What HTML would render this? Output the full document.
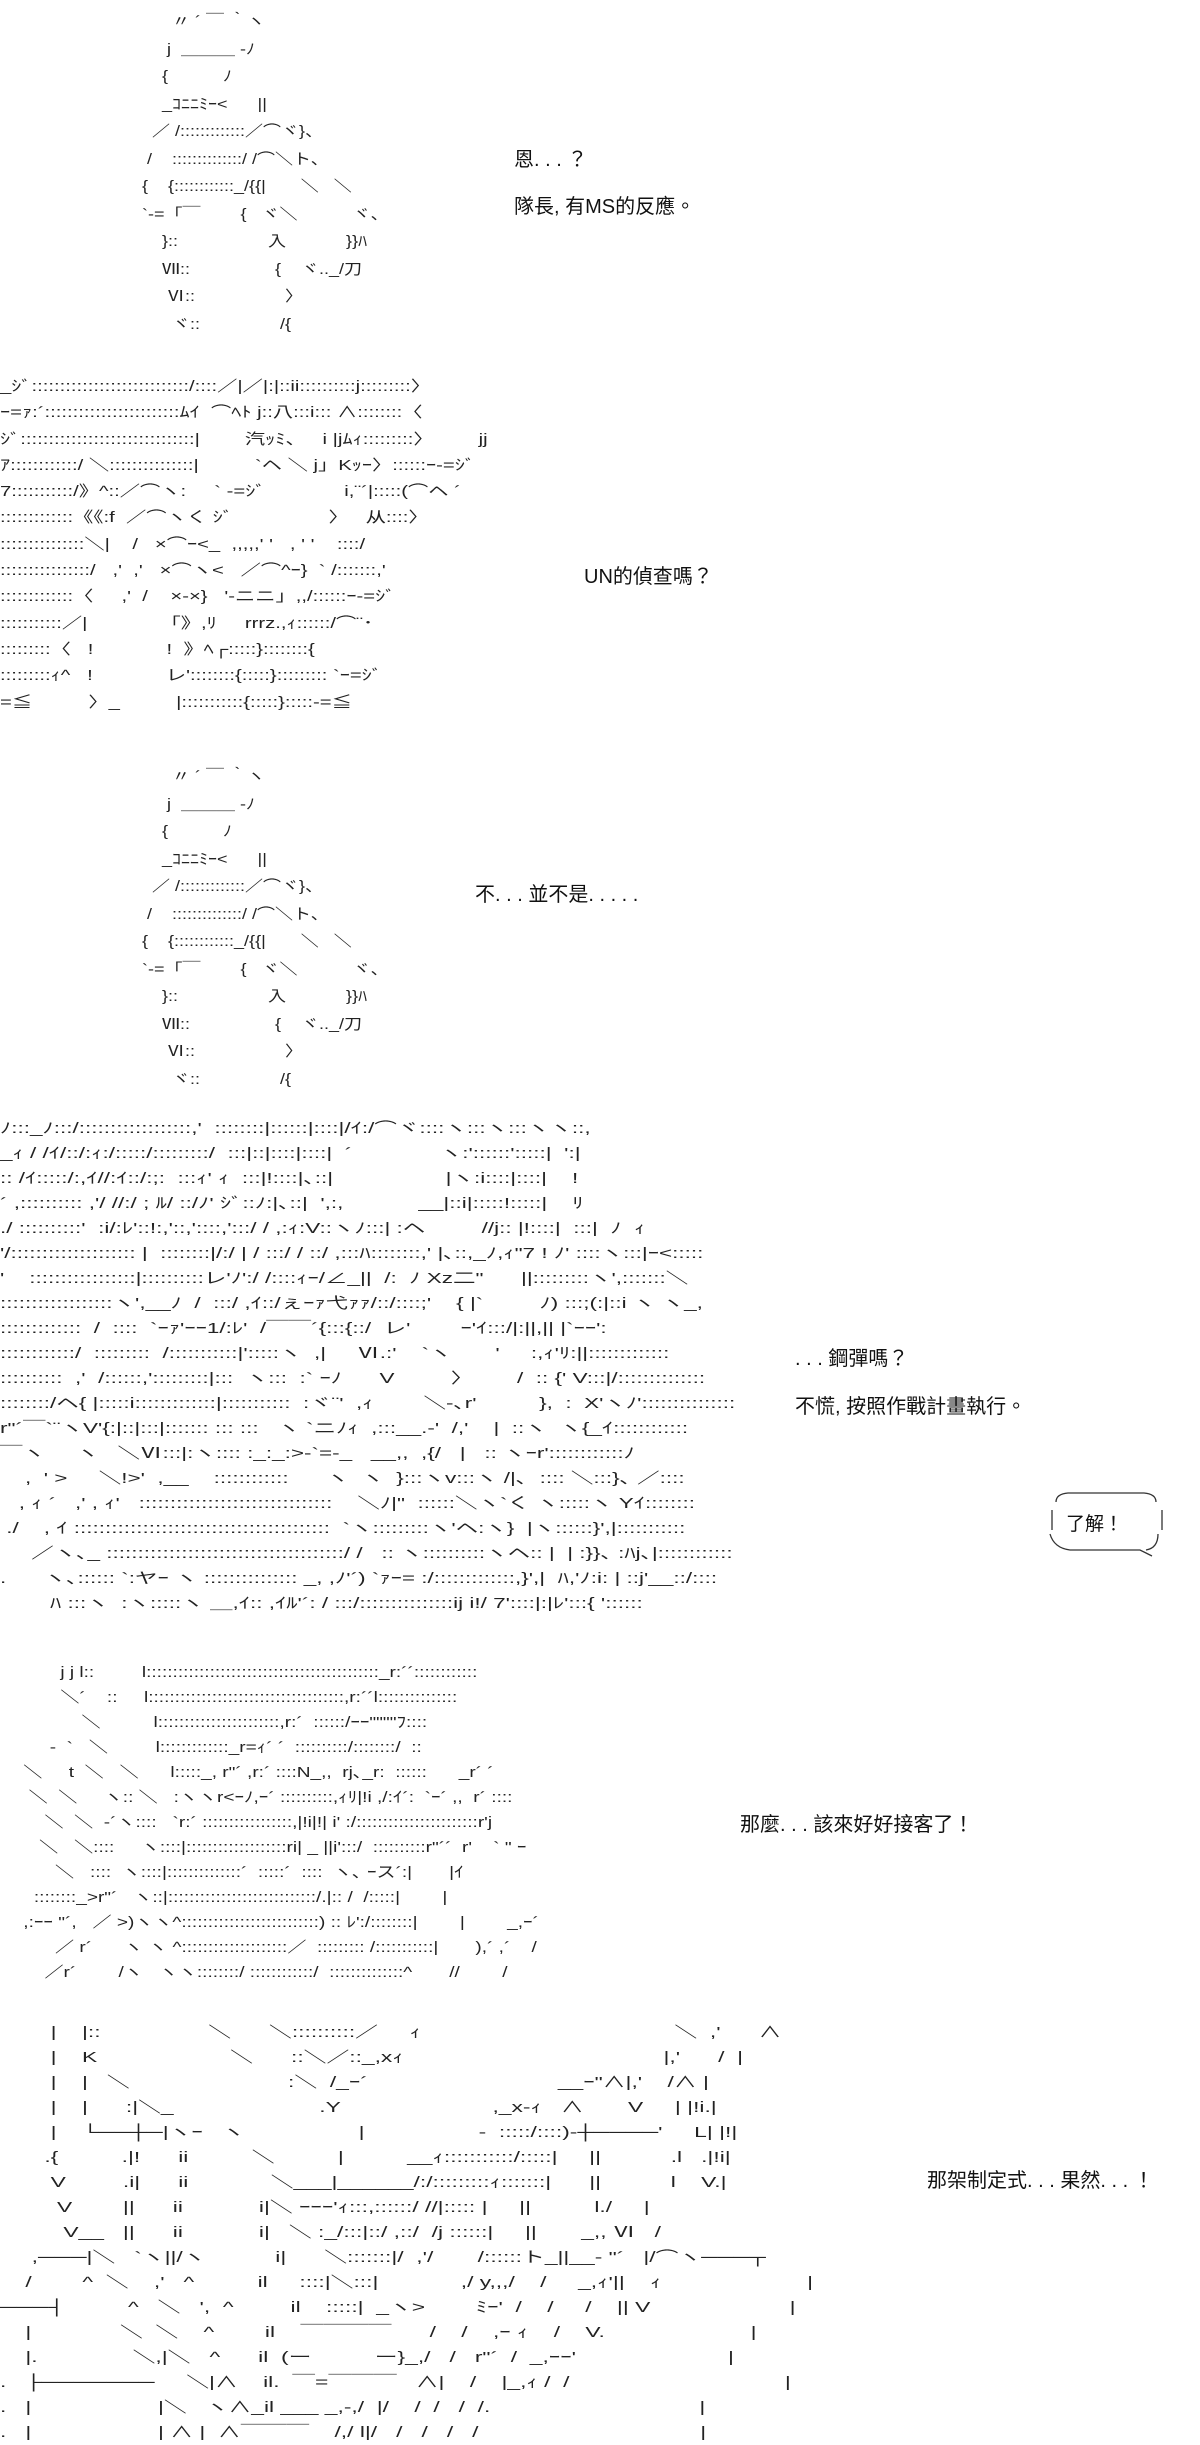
<!DOCTYPE html>
<html><head><meta charset="utf-8">
<style>
html,body{margin:0;padding:0;background:#fff;}
body{width:1200px;height:2436px;position:relative;overflow:hidden;}
pre{position:absolute;margin:0;font-family:"Liberation Sans","Noto Sans CJK JP",sans-serif;font-size:15px;line-height:25px;color:#222;white-space:pre;transform-origin:0 0;}
.t{position:absolute;font-family:"Liberation Sans","Noto Sans CJK TC",sans-serif;font-size:20px;color:#111;white-space:nowrap;}
.b{position:absolute;left:1044px;top:1488px;width:126px;height:70px;}
.fig{line-height:27.5px;transform:scaleX(1.2);}
</style></head><body>

<pre class="fig" style="left:122px;top:8px;">          〃 ´ ￣ ｀ヽ
         j  ＿＿＿ -ﾉ
        {           ﾉ
        _ｺﾆﾆﾐｰ&lt;      ||
      ／ /:::::::::::::／⌒ヾ}、
     /    ::::::::::::::/ /⌒＼ト、
    {    {::::::::::::_/{{|       ＼   ＼
    `-=「￣        {   ヾ＼           ヾ、
        }::                  入            }}ﾊ
        Ⅶ::                 {    ヾ.._/刀
         Ⅵ::                  〉
          ヾ::                /{</pre>
<div class="t" style="left:514px;top:143px;">恩. . . ？</div>
<div class="t" style="left:514px;top:190px;">隊長, 有MS的反應。</div>

<pre style="left:0px;top:374px;line-height:26.3px;transform:scaleX(1.35);">_ｼﾞ::::::::::::::::::::::::::::/::::／|／|:|::ii::::::::::j:::::::::〉
ｰ=ｧ:´::::::::::::::::::::::::ﾑｲ  ⌒ﾍﾄ j::八:::i::: ∧::::::::〈
ｼﾞ:::::::::::::::::::::::::::::::|        汽ｯﾐ、   i |jﾑｨ:::::::::〉        jj
ｱ::::::::::::/ ＼:::::::::::::::|          `ヘ ＼ j」Kｯｰ〉::::::ｰ-=ｼﾞ
7:::::::::::/》^::／⌒ヽ:     ` -=ｼﾞ              i,¨´|:::::(⌒ヘ ´
:::::::::::::《《:f  ／⌒ヽく ｼﾞ                 〉   从::::〉
:::::::::::::::＼|    /   ×⌒ｰ&lt;_  ,,,,,' '   , ' '    ::::/
::::::::::::::::/   ,'  ,'   ×⌒ヽ&lt;   ／⌒^ｰ}  ` /:::::::,'
:::::::::::::〈     ,'  /    ×-×}   '-ニニ」,,/::::::ｰ-=ｼﾞ
:::::::::::／|             「》,ﾘ     rrrz.,ｨ::::::/⌒¨･
:::::::::〈   !             !  》ﾍ┌:::::}::::::::{
:::::::::ｨ^   !             レ'::::::::{:::::}::::::::: `ｰ=ｼﾞ
=≦          〉_          |:::::::::::{:::::}:::::-=≦</pre>
<div class="t" style="left:584px;top:560px;">UN的偵查嗎？</div>

<pre class="fig" style="left:122px;top:763px;">          〃 ´ ￣ ｀ヽ
         j  ＿＿＿ -ﾉ
        {           ﾉ
        _ｺﾆﾆﾐｰ&lt;      ||
      ／ /:::::::::::::／⌒ヾ}、
     /    ::::::::::::::/ /⌒＼ト、
    {    {::::::::::::_/{{|       ＼   ＼
    `-=「￣        {   ヾ＼           ヾ、
        }::                  入            }}ﾊ
        Ⅶ::                 {    ヾ.._/刀
         Ⅵ::                  〉
          ヾ::                /{</pre>
<div class="t" style="left:475px;top:878px;">不. . . 並不是. . . . .</div>

<pre style="left:0px;top:1116px;transform:scaleX(1.5);">ﾉ:::_ﾉ:::/::::::::::::::::::,'  ::::::::|::::::|::::|/ｲ:/⌒ヾ::::ヽ:::ヽ:::ヽヽ::,
_ｨ / /ｲ/::/:ｨ:/:::::/:::::::::/  :::|::|::::|::::|  ´              ヽ:'::::::':::::|  ':|
:: /ｲ:::::/:,ｲ//:ｲ::/:;:  :::ｨ' ｨ  :::|!::::|､::|                  |ヽ:i::::|::::|    !
´ ,:::::::::: ,'/ //:/ ; ﾙ/ ::/ﾉ' ｼﾞ::ﾉ:|､::|  ',:,            __|::i|:::::!:::::|    ﾘ
./ ::::::::::'  :i/:ﾚ'::!:,'::,'::::,':::/ / ,:ｨ:V::ヽﾉ:::| :ヘ         //j:: |!::::|  :::|  ﾉ  ｨ
'/:::::::::::::::::::: |  ::::::::|/:/ | / :::/ / ::/ ,:::ﾊ::::::::,' |､::,_ﾉ,ｨ"7 ! ﾉ' ::::ヽ:::|ｰ&lt;:::::
'    :::::::::::::::::|::::::::::レ'ﾉ':/ /::::ｨｰ/∠_||  /:  ﾉ Xz二"      ||:::::::::ヽ',:::::::＼
::::::::::::::::::ヽ',__ﾉ  /  :::/ ,ｲ::/ぇｰｧ弋ｧｧ/::/::::;'    { |`         ﾉ) :::;(:|::i ヽ ヽ_,
:::::::::::::  /  ::::  `ｰｧ'ｰｰ1/:ﾚ'  /￣￣´{:::{::/  レ'        ｰ'ｲ:::/|:||,|| |`ｰｰ':
::::::::::::/  :::::::::  /:::::::::::|':::::ヽ  ,|     Ⅵ.:'    `ヽ       '     :,ｨ'ﾘ:||:::::::::::::
::::::::::  ,'  /::::::,':::::::::|:::  ヽ:::  :` ｰﾉ      V         〉       /  :: {' V:::|/::::::::::::::
::::::::/ヘ{ |:::::i:::::::::::::|:::::::::::  :ヾ¨'  ,ｨ        ＼-､r'          },  :  X'ヽﾉ':::::::::::::::
r"´￣`¨ヽV'{:|::|:::|::::::: ::: :::   ヽ `ニﾉｨ  ,:::__.-'  /,'    |  ::ヽ  ヽ{_ｲ::::::::::::
￣ヽ     ヽ   ＼Ⅵ:::|:ヽ:::: :_:_:>-`=-_   __,,  ,{/   |   :: ヽｰr'::::::::::::ﾉ
    ,  ' >     ＼!>'  ,__    ::::::::::::      ヽ  ヽ  }:::ヽv:::ヽ /|､  :::: ＼:::}､ ／::::
   , ｨ ´   ,' , ｨ'   :::::::::::::::::::::::::::::::    ＼ﾉ|"  ::::::＼ヽ`く ヽ:::::ヽ Yｲ::::::::
 ./    , ｲ :::::::::::::::::::::::::::::::::::::::::  `ヽ:::::::::ヽ'ヘ:ヽ}  |ヽ::::::}',|:::::::::::
     ／ヽ､_ ::::::::::::::::::::::::::::::::::::::/ /   :: ヽ::::::::::ヽヘ:: |  | :}}､ :ﾊj､|::::::::::::
.      ヽ､:::::: `:ヤｰ ヽ ::::::::::::::: _, ,ﾉ'´) `ｧｰ= :/:::::::::::::,}',|  ﾊ,'ﾉ:i: | ::j'__::/::::
        ﾊ :::ヽ  :ヽ:::::ヽ ＿,ｲ:: ,ｲﾙ'´: / :::/:::::::::::::::ij i!/ 7'::::|:|ﾚ':::{ '::::::</pre>
<div class="t" style="left:795px;top:1342px;">. . . 鋼彈嗎？</div>
<div class="t" style="left:795px;top:1390px;">不慌, 按照作戰計畫執行。</div>
<svg class="b" viewBox="0 0 126 70" width="126" height="70">
<path d="M12 14 Q12 6 24 5 L100 5 Q112 6 112 14 M8 22 L8 42 M6 46 Q10 60 26 62 L96 62 L108 68 M102 62 Q114 60 114 46 M118 22 L118 42" fill="none" stroke="#333" stroke-width="1.3"/>
<text x="22" y="42" font-family="Liberation Sans, Noto Sans CJK TC, sans-serif" font-size="19" fill="#111">了解！</text>
</svg>

<pre style="left:18px;top:1660px;transform:scaleX(1.27);">        j j l::         l::::::::::::::::::::::::::::::::::::::::::::_r:´´::::::::::::
        ＼´    ::     l:::::::::::::::::::::::::::::::::::::,r:´´l:::::::::::::::
            ＼          l:::::::::::::::::::::::,r:´  ::::::/ｰｰ""""ﾌ::::
      -  `   ＼         l:::::::::::::_r=ｨ´ ´  ::::::::::/::::::::/  ::
 ＼     t  ＼   ＼      l:::::_, r"´ ,r:´ ::::N_,,  rj､_r:  ::::::      _r´ ´
  ＼  ＼     ヽ:: ＼   :ヽヽr&lt;ｰﾉ,ｰ´ ::::::::::,ｨﾘ|!i ,/:ｲ´:  `ｰ´ ,,  r´ ::::
     ＼  ＼  -´ヽ::::   `r:´ :::::::::::::::::,|!i|!| i' :/:::::::::::::::::::::::r'j
    ＼   ＼::::     ヽ::::|:::::::::::::::::::ri| _ ||i':::/  ::::::::::r"´´  r'    ` " ｰ
       ＼   ::::  ヽ::::|::::::::::::::´  :::::´  ::::  ヽ､ ｰス´:|       |ｲ
   ::::::::_>r"´   ヽ::|::::::::::::::::::::::::::::/.|:: /  /:::::|        |
 ,:ｰｰ "´,   ／ >)ヽヽ^::::::::::::::::::::::::::) :: ﾚ':/::::::::|        |        _,ｰ´
       ／ r´      ヽ ヽ ^::::::::::::::::::::／  ::::::::: /:::::::::::|       ),´ ,´    /
     ／r´        /ヽ   ヽヽ::::::::/ ::::::::::::/  ::::::::::::::^       //        /</pre>
<div class="t" style="left:740px;top:1808px;">那麼. . . 該來好好接客了！</div>

<pre style="left:0px;top:2020px;transform:scaleX(1.52);">        |    |::                 ＼      ＼::::::::::／     ｨ                                        ＼  ,'      ∧
        |    K                     ＼      ::＼／::_,xｨ                                         |,'      /  |
        |    |   ＼                         :＼  /_ｰ´                              __ｰ"∧|,'    /∧ |
        |    |      :|＼_                       .Y                        ,_x-ｨ   ∧       V     | |!i.|
        |    └──┼─|ヽｰ   ヽ                  |                  -  :::::/::::)-┼────'     L| |!|
       .{          .|!      ii          ＼          |          __ｨ:::::::::::/:::::|     ||           .l   .|!i|
        V         .i|      ii             ＼___|______/:/:::::::::ｨ:::::::|      ||           l    V.|
         V        ||      ii            i|＼ ｰｰｰ'ｨ:::,::::::/ //|::::: |     ||          l./     |
          V__   ||      ii            i|   ＼ :_/:::|::/ ,::/  /j ::::::|     ||       _,, Ⅵ   /
     ,───|＼   `ヽ||/ヽ           i|      ＼:::::::|/  ,'/       /::::::ト_||__- "´   |/⌒ヽ───┬
    /        ^  ＼    ,'   ^          il     ::::|＼:::|             ,/ y,,,/    /     _,ｨ'||    ｨ                       |
───┤          ^   ＼   ',  ^         il    :::::|  _ヽ>        ﾐｰ'  /    /     /    || V                      |
    |              ＼  ＼    ^        il    ￣￣￣￣      /    /    ,ｰ ｨ    /    V.                       |
    |.               ＼,|＼   ^      il  (ー          ー}_,/   /   r"´  /  _,ｰｰ'                        |
.   ├───────     ＼|∧    il.  ￣=￣￣￣   ∧|    /    |_,ｨ /  /                                  |
.   |                    |＼   ヽ∧_il ___ _,-,/  |/    /  /   /  /.                                 |
.   |                    | ∧ |  ∧￣￣￣    /,/ l|/   /   /   /   /                                   |</pre>
<div class="t" style="left:927px;top:2164px;">那架制定式. . . 果然. . . ！</div>

</body></html>
